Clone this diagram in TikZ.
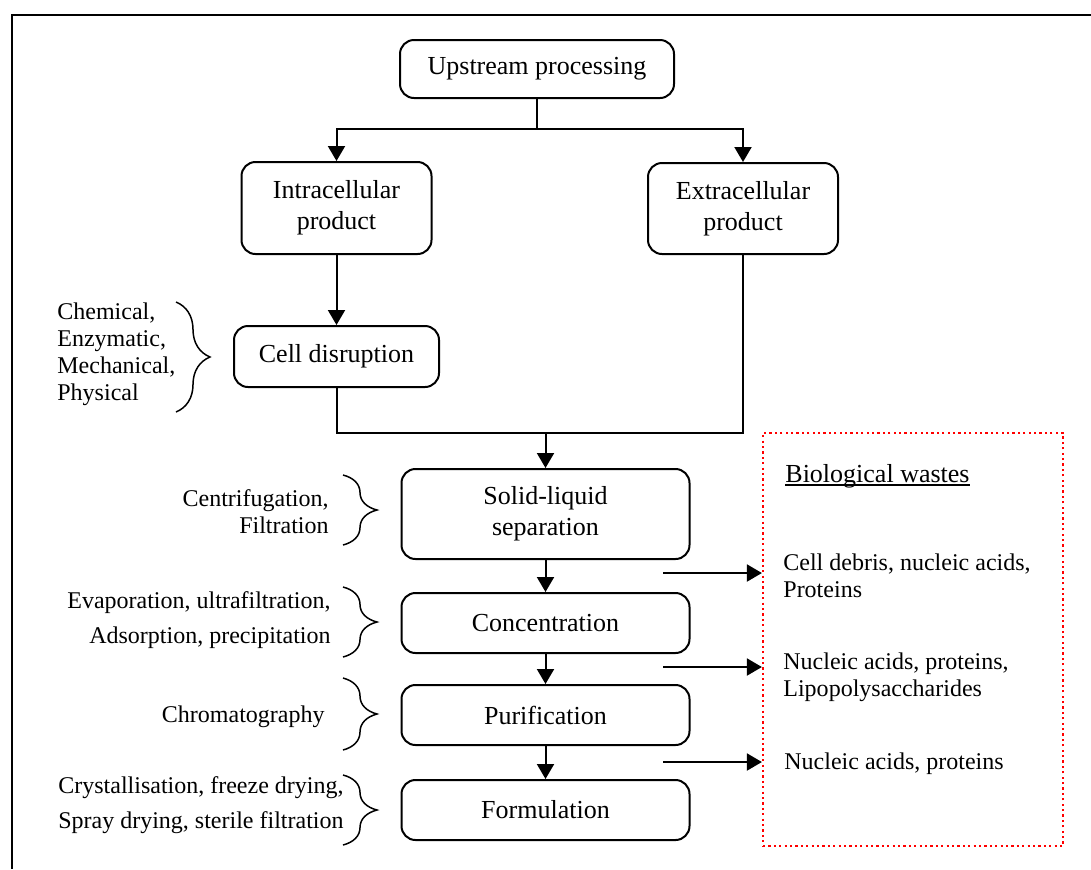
\documentclass[tikz,border=0pt]{standalone}
\usepackage{fontspec}
\setmainfont{Liberation Serif}
\usetikzlibrary{arrows.meta,decorations.pathreplacing}
\definecolor{wasteRed}{HTML}{FF0000}

\begin{document}
\begin{tikzpicture}[x=0.5pt,y=-0.5pt, every node/.style={font=\fontsize{12}{13.5}\selectfont},
    stage/.style={draw, line width=1pt, rounded corners=7pt, align=center, inner sep=0pt, font=\fontsize{13}{15.5}\selectfont},
    note/.style={inner sep=0pt},
    link/.style={line width=1pt},
    flow/.style={link, -{Triangle[width=8.5pt,length=7.5pt]}},
    sidebrace/.style={decorate, decoration={brace, amplitude=17pt}, line width=0.75pt},
    wastebox/.style={draw=wasteRed, line width=1.1pt, dash pattern=on 1.1pt off 1.6pt, inner sep=0pt}]
    \useasboundingbox (0,0) rectangle (1091,869);
    \draw[line width=1.25pt] (1091,15) -- (12,15) -- (12,869);

    \node[stage, minimum width=137pt, minimum height=29pt] (up) at (537,69) {Upstream processing};
    \node[stage, minimum width=95pt, minimum height=46pt] (intra) at (336.5,208) {Intracellular\\product};
    \node[stage, minimum width=95pt, minimum height=45.5pt] (extra) at (743,208.5) {Extracellular\\product};
    \node[stage, minimum width=102.5pt, minimum height=30.5pt] (cell) at (336.5,356.5) {Cell disruption};
    \node[stage, minimum width=144pt, minimum height=45pt] (solid) at (545.5,514) {Solid-liquid\\separation};
    \node[stage, minimum width=144pt, minimum height=30pt] (conc) at (545.5,623) {Concentration};
    \node[stage, minimum width=144pt, minimum height=30pt] (puri) at (545.5,715) {Purification};
    \node[stage, minimum width=144pt, minimum height=30pt] (form) at (545.5,810) {Formulation};

    \coordinate (split) at (537,129);
    \coordinate (merge) at (545.5,433);
    \draw[link] (up) -- (split);
    \draw[flow] (split) -| (intra);
    \draw[flow] (split) -| (extra);
    \draw[flow] (intra) -- (cell);
    \draw[link] (cell.south) |- (extra.south |- merge) -- (extra.south);
    \draw[flow] (merge) -- (solid);
    \draw[flow] (solid) -- (conc);
    \draw[flow] (conc) -- (puri);
    \draw[flow] (puri) -- (form);

    \node[note, anchor=west, align=left] (chem) at (57,354) {Chemical,\\Enzymatic,\\Mechanical,\\Physical};
    \node[note, anchor=east, align=right] (centr) at (329,512) {Centrifugation,\\Filtration};
    \node[note, anchor=east, align=right, font=\fontsize{12}{17.5}\selectfont] (evap) at (331,620) {Evaporation, ultrafiltration,\\Adsorption, precipitation};
    \node[note, anchor=east] (chrom) at (325,717) {Chromatography};
    \node[note, anchor=east, align=right, font=\fontsize{12}{17.5}\selectfont] (cryst) at (344,805) {Crystallisation, freeze drying,\\Spray drying, sterile filtration};

    \draw[sidebrace] (176,302) -- (176,412);
    \draw[sidebrace] (343,475) -- (343,545);
    \draw[sidebrace] (343,587) -- (343,657);
    \draw[sidebrace] (343,678) -- (343,750);
    \draw[sidebrace] (343,775) -- (343,845);

    \node[wastebox, minimum width=150pt, minimum height=206.5pt] (waste) at (913,639.5) {};
    \node[note, anchor=base west, font=\fontsize{13}{15.5}\selectfont] (wtitle) at (785,482) {Biological wastes};
    \draw[line width=0.6pt] ([yshift=-1.5pt]wtitle.base west) -- ([yshift=-1.5pt]wtitle.base east);
    \node[note, anchor=west, align=left] (debris) at (783,576) {Cell debris, nucleic acids,\\Proteins};
    \node[note, anchor=west, align=left] (lipo) at (783,677) {Nucleic acids, proteins,\\Lipopolysaccharides};
    \node[note, anchor=west] (nucl) at (784,764) {Nucleic acids, proteins};

    \coordinate (out1) at (663,573);
    \coordinate (out2) at (663,667);
    \coordinate (out3) at (663,762);
    \draw[flow] (out1) -- (out1 -| waste.west);
    \draw[flow] (out2) -- (out2 -| waste.west);
    \draw[flow] (out3) -- (out3 -| waste.west);
\end{tikzpicture}
\end{document}
